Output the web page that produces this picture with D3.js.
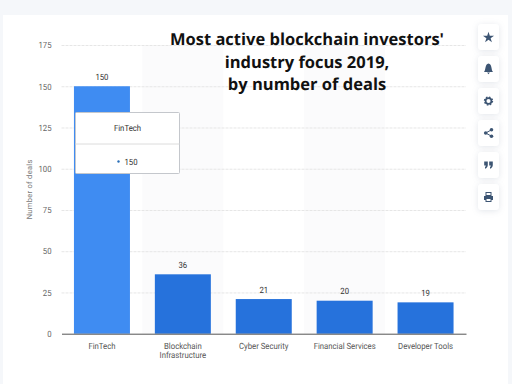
<!DOCTYPE html>
<html>
<head>
<meta charset="utf-8">
<script src="https://cdn.jsdelivr.net/npm/d3@7"></script>
<style>
  html, body { margin: 0; padding: 0; background: #f5f7fa; }
  svg { display: block; }
  text { font-family: Roboto, "Open Sans", sans-serif; text-rendering: geometricPrecision; }
</style>
</head>
<body>
<svg id="chart" width="512" height="384"></svg>
<script>
const categories = ["FinTech", "Blockchain Infrastructure", "Cyber Security", "Financial Services", "Developer Tools"];
const deals = [150, 36, 21, 20, 19];
const yTicks = [0, 25, 50, 75, 100, 125, 150, 175];
const titleLines = ["Most active blockchain investors'", "industry focus 2019,", "by number of deals"];
const yLabel = "Number of deals";
const highlighted = "FinTech";

const svg = d3.select("#chart");
const plotLeft = 61.5, plotRight = 466, plotTop = 45, plotBottom = 333.7;
const labelSize = 8.6;
const squeeze = "scale(0.9,1)"; // labels in the picture are narrow

// card behind the chart
svg.append("rect").attr("x", 3).attr("y", 15).attr("width", 505).attr("height", 369).attr("fill", "#fff");

const x = d3.scaleBand().domain(categories).range([plotLeft, plotRight]).padding(0);
const y = d3.scaleLinear().domain([0, 175]).range([plotBottom, plotTop]);

// alternating stripes
svg.append("g").selectAll("rect")
    .data(categories.filter((d, i) => i % 2 === 1))
    .enter().append("rect")
    .attr("x", d => x(d))
    .attr("y", plotTop)
    .attr("width", x.bandwidth())
    .attr("height", plotBottom - plotTop)
    .attr("fill", "#fbfbfc");

// y axis + grid
const yAxis = svg.append("g")
    .attr("transform", `translate(${plotLeft},0)`)
    .call(d3.axisLeft(y).tickValues(yTicks).tickSize(0).tickPadding(10));
yAxis.select(".domain").remove();
yAxis.selectAll("text")
    .attr("x", 0)
    .attr("transform", `translate(-10,0) ${squeeze}`)
    .attr("font-size", labelSize)
    .attr("fill", "#666");
yAxis.selectAll(".tick").filter(d => d > 0).append("line")
    .attr("x2", plotRight - plotLeft)
    .attr("stroke", "#e6e6e6")
    .attr("stroke-dasharray", "3,1");

svg.append("text")
    .attr("transform", `translate(31.5,${(plotTop + plotBottom) / 2}) rotate(-90)`)
    .attr("text-anchor", "middle")
    .attr("font-size", 7.5)
    .attr("letter-spacing", 0.3)
    .attr("fill", "#777")
    .text(yLabel);

// bars
const barW = 56;
const offset = (x.bandwidth() - barW) / 2;
svg.append("g").selectAll("rect")
    .data(categories)
    .enter().append("rect")
    .attr("x", d => x(d) + offset)
    .attr("y", (d, i) => y(deals[i]))
    .attr("width", barW)
    .attr("height", (d, i) => y(0) - y(deals[i]))
    .attr("fill", d => d === highlighted ? "#3f8cf2" : "#2672dc");

// value labels
svg.append("g").selectAll("text")
    .data(categories)
    .enter().append("text")
    .attr("transform", (d, i) => `translate(${x(d) + x.bandwidth() / 2},${y(deals[i]) - 6.5}) ${squeeze}`)
    .attr("text-anchor", "middle")
    .attr("font-size", labelSize)
    .attr("fill", "#333")
    .text((d, i) => deals[i]);

// x axis
const xAxis = svg.append("g")
    .attr("transform", `translate(0,${plotBottom})`)
    .call(d3.axisBottom(x).tickSize(0).tickPadding(9));
xAxis.select(".domain").attr("stroke", "#555").attr("stroke-width", 1);
xAxis.selectAll("text")
    .attr("font-size", labelSize)
    .attr("fill", "#555")
    .attr("transform", squeeze)
    .each(function(d) {
        const t = d3.select(this);
        const words = d === "Blockchain Infrastructure" ? d.split(" ") : [d];
        const ty = t.attr("y");
        t.text(null);
        words.forEach((w, i) => {
            t.append("tspan").attr("x", 0).attr("y", ty).attr("dy", (0.71 + i * 1.1) + "em").text(w);
        });
    })
    .attr("dy", null);

// tooltip
const tip = svg.append("g").attr("transform", "translate(75.5,112.5)");
tip.append("rect").attr("width", 104).attr("height", 61)
    .attr("fill", "#fff").attr("stroke", "#c4c7cc").attr("rx", 1);
tip.append("line").attr("x1", 0).attr("x2", 104).attr("y1", 31.5).attr("y2", 31.5).attr("stroke", "#dcdcdc");
tip.append("text").attr("transform", `translate(52,18.5) ${squeeze}`).attr("text-anchor", "middle")
    .attr("font-size", labelSize).attr("fill", "#333").text(highlighted);
tip.append("circle").attr("cx", 43).attr("cy", 49).attr("r", 1.2).attr("fill", "#2a6fb8");
tip.append("text").attr("transform", `translate(49,52) ${squeeze}`)
    .attr("font-size", labelSize).attr("fill", "#333").text(deals[categories.indexOf(highlighted)]);

// title
svg.append("g").selectAll("text")
    .data(titleLines)
    .enter().append("text")
    .attr("x", 307)
    .attr("y", (d, i) => 45 + i * 22.7)
    .attr("text-anchor", "middle")
    .style("font-family", "'Open Sans', sans-serif")
    .attr("font-weight", 700)
    .attr("font-size", 16.5)
    .attr("fill", "#111")
    .text(d => d);

// side buttons
const iconColor = "#3d5573";
const icons = [
    g => g.append("path").attr("d", d3.symbol(d3.symbolStar, 38)()).attr("transform", "translate(0,0.5)"),
    g => g.append("path").attr("d", "M-4.5,3 C-2.5,1 -3.8,-5 0,-5.5 C3.8,-5 2.5,1 4.5,3 Z M-1.4,3.6 H1.4 L0,5.2 Z"),
    g => {
        g.append("circle").attr("r", 2.9).attr("fill", "none").attr("stroke", iconColor).attr("stroke-width", 1.7);
        g.append("circle").attr("r", 4).attr("fill", "none").attr("stroke", iconColor).attr("stroke-width", 1.3).attr("stroke-dasharray", "1.6,1.54");
    },
    g => {
        g.append("path").attr("d", "M3,-3.2 L-2.8,0 L3,3.2").attr("fill", "none").attr("stroke", iconColor).attr("stroke-width", 1);
        [[3, -3.2], [-2.8, 0], [3, 3.2]].forEach(p => g.append("circle").attr("cx", p[0]).attr("cy", p[1]).attr("r", 1.8));
    },
    g => {
        [-4.3, 0.7].forEach(dx => g.append("path").attr("transform", `translate(${dx},-3.5)`)
            .attr("d", "M0,0 H3.6 V3.6 C3.6,5.5 2.5,6.8 0.8,7.2 V5.6 C1.4,5.3 1.6,4.8 1.6,4 H0 Z"));
    },
    g => {
        g.append("rect").attr("x", -2.5).attr("y", -4.5).attr("width", 5).attr("height", 3).attr("fill", "none").attr("stroke", iconColor);
        g.append("path").attr("d", "M-4.5,-1 H4.5 V3 H-4.5 Z");
        g.append("rect").attr("x", -2.5).attr("y", 1.5).attr("width", 5).attr("height", 3).attr("fill", "#fff").attr("stroke", iconColor);
    }
];
icons.forEach((draw, i) => {
    const b = svg.append("g").attr("transform", `translate(488.5,${37 + i * 32})`).attr("fill", iconColor);
    b.append("rect").attr("x", -10.5).attr("y", -13).attr("width", 21).attr("height", 26).attr("rx", 3)
        .attr("fill", "#fff").style("filter", "drop-shadow(0 1px 3px rgba(60,80,110,0.14))");
    draw(b);
});
</script>
</body>
</html>
